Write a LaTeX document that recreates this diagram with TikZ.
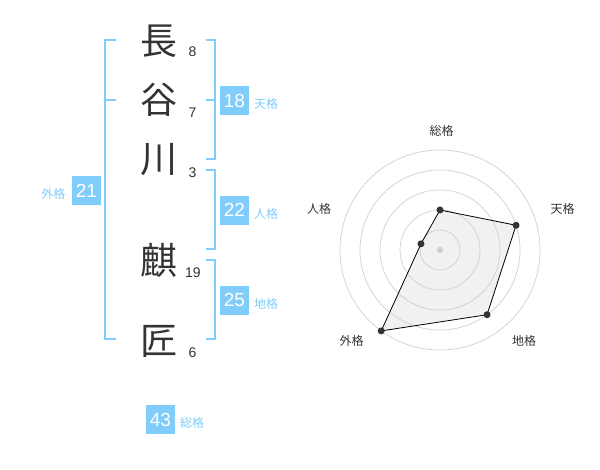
\documentclass[tikz,border=0pt]{standalone}
\usepackage{fontspec}
\setmainfont{Liberation Sans}
\newfontfamily\cjk{Noto Sans CJK JP}
\definecolor{sky}{RGB}{128,204,250}
\definecolor{ink}{RGB}{51,51,51}
\definecolor{ringgray}{RGB}{208,208,208}
\definecolor{areafill}{RGB}{238,238,238}
\begin{document}
\begin{tikzpicture}[x=1pt,y=-1pt,
  kanji/.style={font=\cjk\fontsize{37}{37}\selectfont, text=ink, inner sep=0pt},
  strokes/.style={font=\fontsize{14}{14}\selectfont, text=ink, inner sep=0pt},
  numbox/.style={fill=sky, text=white, minimum width=29pt, minimum height=29pt, inner sep=0pt, font=\fontsize{19}{19}\selectfont},
  kaku/.style={font=\cjk\fontsize{12}{12}\selectfont, text=sky, inner sep=0pt},
  bracket/.style={draw=sky, line width=2pt},
  ring/.style={draw=ringgray, line width=0.7pt},
  axislabel/.style={font=\cjk\fontsize{12}{12}\selectfont, text=ink, inner sep=0pt},
  vdot/.style={circle, fill=ink, inner sep=0pt, minimum size=7pt},
  area/.style={fill=areafill, fill opacity=0.85},
  outline/.style={draw=black, line width=0.8pt}
]
\useasboundingbox (0,0) rectangle (600,470);

% name characters
\node[kanji] (k1) at (159,41) {長};
\node[kanji] (k2) at (159,100) {谷};
\node[kanji] (k3) at (159,160) {川};
\node[kanji] (k4) at (159,260) {麒};
\node[kanji] (k5) at (159,341) {匠};

% stroke counts
\node[strokes] (s1) at (192.5,52) {8};
\node[strokes] (s2) at (192.5,113) {7};
\node[strokes] (s3) at (192.5,173) {3};
\node[strokes] (s4) at (193,273) {19};
\node[strokes] (s5) at (192.5,353) {6};

% brackets
\draw[bracket] (116,40) -- (105,40) -- (105,339.5) -- (116,339.5);
\draw[bracket] (105,100) -- (116,100);
\draw[bracket] (205.5,40) -- (214.5,40) -- (214.5,159.5) -- (205.5,159.5);
\draw[bracket] (205.5,100) -- (214.5,100);
\draw[bracket] (205.5,170) -- (214.5,170) -- (214.5,249.5) -- (205.5,249.5);
\draw[bracket] (205.5,260) -- (214.5,260) -- (214.5,339.5) -- (205.5,339.5);

% boxes and labels
\node[numbox] (b18) at (234.5,100.5) {18};
\node[kaku, anchor=west] (l18) at (254,104) {天格};
\node[numbox] (b22) at (234.5,210.3) {22};
\node[kaku, anchor=west] (l22) at (254,214) {人格};
\node[numbox] (b25) at (234.5,300.2) {25};
\node[kaku, anchor=west] (l25) at (254,304) {地格};
\node[numbox] (b21) at (86.5,190.5) {21};
\node[kaku, anchor=east] (l21) at (65.5,194) {外格};
\node[numbox] (b43) at (160.5,419.5) {43};
\node[kaku, anchor=west] (l43) at (180,423) {総格};

% radar chart
\coordinate (c) at (440,250);
\path (c) ++(-90:40) coordinate (pso);
\path (c) ++(-18:80) coordinate (pte);
\path (c) ++(54:80) coordinate (pch);
\path (c) ++(126:100) coordinate (pga);
\path (c) ++(-162:20) coordinate (pji);
\fill[area] (pso) -- (pte) -- (pch) -- (pga) -- (pji) -- cycle;
\foreach \r in {20,40,60,80,100} \draw[ring] (c) circle[radius=\r];
\draw[outline] (pso) -- (pte) -- (pch) -- (pga) -- (pji) -- cycle;
\fill[ringgray] (c) circle[radius=3.2];
\node[vdot] (dso) at (pso) {};
\node[vdot] (dte) at (pte) {};
\node[vdot] (dch) at (pch) {};
\node[vdot] (dga) at (pga) {};
\node[vdot] (dji) at (pji) {};

\node[axislabel] (aso) at (441.5,130.5) {総格};
\node[axislabel] (ate) at (562.5,209) {天格};
\node[axislabel] (ach) at (524,341) {地格};
\node[axislabel] (aga) at (351.5,341) {外格};
\node[axislabel] (aji) at (319,209) {人格};
\end{tikzpicture}
\end{document}
